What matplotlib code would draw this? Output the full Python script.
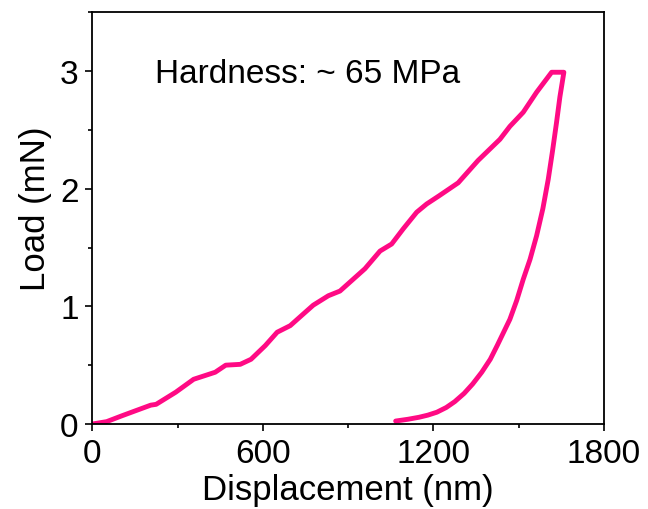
import numpy as np
import matplotlib
matplotlib.use('Agg')
import matplotlib.pyplot as plt
from matplotlib.ticker import MultipleLocator

plt.rcParams['font.family'] = ['Liberation Sans', 'DejaVu Sans']

# loading branch (nm, mN)
x_load = [0, 50, 104, 160, 205, 224, 293, 356, 432, 469, 520, 558, 608, 650,
          696, 735, 777, 830, 871, 959, 1012, 1053, 1094, 1141, 1176, 1220,
          1287, 1357, 1434, 1469, 1516, 1563, 1616, 1659]
y_load = [0, 0.02, 0.07, 0.12, 0.16, 0.167, 0.27, 0.38, 0.44, 0.50, 0.507, 0.55,
          0.666, 0.78, 0.836, 0.92, 1.01, 1.09, 1.13, 1.32, 1.47, 1.53, 1.66,
          1.80, 1.87, 1.94, 2.05, 2.24, 2.42, 2.53, 2.65, 2.82, 2.99, 2.99]

# unloading branch
x_unload = [1659, 1645, 1633, 1619, 1604, 1585, 1563, 1540, 1516, 1493, 1469,
            1447, 1425, 1400, 1370, 1338, 1308, 1275, 1245, 1212, 1180, 1149,
            1110, 1067]
y_unload = [2.99, 2.78, 2.56, 2.32, 2.08, 1.83, 1.60, 1.40, 1.23, 1.05, 0.89,
            0.78, 0.67, 0.55, 0.44, 0.34, 0.26, 0.19, 0.14, 0.10, 0.075, 0.057,
            0.04, 0.025]

x_all = np.array(x_load + x_unload[1:])
y_all = np.array(y_load + y_unload[1:])

fig = plt.figure(figsize=(6.48, 5.10), dpi=100)
ax = fig.add_axes([0.1427, 0.1667, 0.932 - 0.1427, 0.974 - 0.1667])

ax.plot(x_all, y_all, color='#ff0a84', lw=3.5, solid_joinstyle='round',
        solid_capstyle='round')

ax.set_xlim(0, 1800)
ax.set_ylim(0, 3.5)
ax.set_xticks([0, 600, 1200, 1800])
ax.set_yticks([0, 1, 2, 3])
ax.xaxis.set_minor_locator(MultipleLocator(300))
ax.yaxis.set_minor_locator(MultipleLocator(0.5))
ax.tick_params(which='major', direction='out', length=5, width=1.2,
               labelsize=24, pad=5)
ax.tick_params(which='minor', direction='out', length=3, width=1.2)
ax.tick_params(top=False, right=False, which='both')
for s in ax.spines.values():
    s.set_linewidth(1.3)

ax.set_xlabel('Displacement (nm)', fontsize=25, labelpad=3)
ax.set_ylabel('Load (mN)', fontsize=25)
ax.yaxis.set_label_coords(-0.08, 0.524)

ax.text(220, 2.91, 'Hardness: ~ 65 MPa', fontsize=24, ha='left',
        va='baseline')

fig.savefig('out.png', dpi=100)
